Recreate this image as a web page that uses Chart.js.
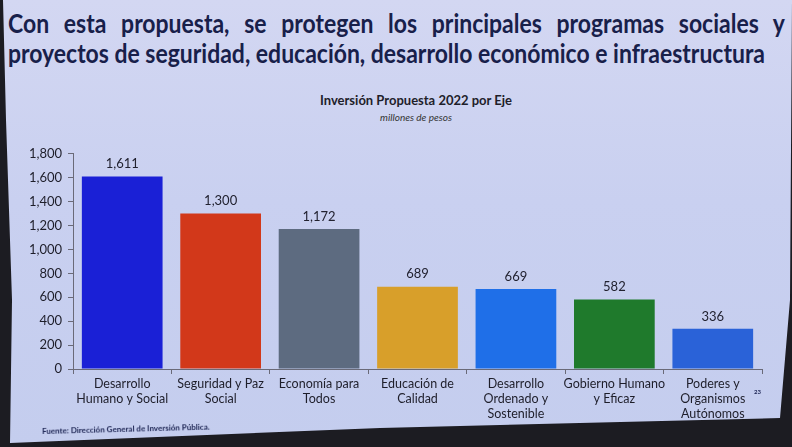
<!DOCTYPE html>
<html>
<head>
<meta charset="utf-8">
<script src="https://cdn.jsdelivr.net/npm/chart.js@4"></script>
<style>
  html, body { margin: 0; padding: 0; }
  body { width: 792px; height: 447px; background: #1c1c22; overflow: hidden; position: relative; font-family: Lato, "Open Sans", sans-serif; }
  .slide { position: absolute; left: 0; top: 0; width: 792px; height: 447px;
           background: linear-gradient(180deg, #d3d7f2 0%, #c9d0f0 45%, #c4cdee 100%);
           clip-path: polygon(3px 0, 792px 0, 790px 300px, 780px 418px, 380px 428px, 10px 443px, 12px 300px, 6px 120px); }
  .headline { position: absolute; left: 8px; color: #18204a; font-size: 27px; font-weight: 700; white-space: nowrap; transform-origin: 0 0; }
  .l1 { top: 6px; text-align: justify; text-align-last: justify; white-space: normal; }
  .l2 { top: 36px; }
  .ctitle { position: absolute; left: 0; width: 792px; top: 92px; text-align: center; font-size: 13px; font-weight: 700; color: #1e1e2a; padding-left: 40px; box-sizing: border-box; }
  .csub { position: absolute; left: 0; width: 792px; top: 111px; text-align: center; font-size: 10px; font-style: italic; color: #333; padding-left: 40px; box-sizing: border-box; }
  .fuente { position: absolute; left: 42px; top: 426px; font-size: 8px; color: #1b2352; font-weight: 700; transform: rotate(-1.5deg); transform-origin: 0 0; }
  .pnum { position: absolute; left: 754px; top: 388px; font-size: 6px; color: #1b2352; font-weight: 700; }
  #wrap { position: absolute; left: 0; top: 140px; width: 792px; height: 300px; }
</style>
</head>
<body>
<div class="slide"></div>
<div class="headline l1" id="h1">Con esta propuesta, se protegen los principales programas sociales y</div>
<div class="headline l2" id="h2">proyectos de seguridad, educación, desarrollo económico e infraestructura</div>
<div class="ctitle">Inversión Propuesta 2022 por Eje</div>
<div class="csub">millones de pesos</div>
<div id="wrap"><canvas id="myChart"></canvas></div>
<div class="pnum">23</div>
<div class="fuente">Fuente: Dirección General de Inversión Pública.</div>

<script>
const categories = [
    ['Desarrollo', 'Humano y Social'],
    ['Seguridad y Paz', 'Social'],
    ['Economía para', 'Todos'],
    ['Educación de', 'Calidad'],
    ['Desarrollo', 'Ordenado y', 'Sostenible'],
    ['Gobierno Humano', 'y Eficaz'],
    ['Poderes y', 'Organismos', 'Autónomos']
];
const investment = [1611, 1300, 1172, 689, 669, 582, 336];
const barColors = ['#1a20d6', '#d2381a', '#5d6b80', '#d89f2a', '#1f6fe8', '#1f7a2c', '#2a62d8'];
const yTicks = [0, 200, 400, 600, 800, 1000, 1200, 1400, 1600, 1800];

// squeeze the headline so the second line ends where the slide's does
function fitHeadline() {
    const h1 = document.getElementById('h1');
    const h2 = document.getElementById('h2');
    const s = 757 / h2.scrollWidth;
    h2.style.transform = `scaleX(${s})`;
    h1.style.width = (777 / s) + 'px';
    h1.style.transform = `scaleX(${s})`;
}
fitHeadline();

// draws the value above each bar
const valueLabels = {
    id: 'valueLabels',
    afterDatasetsDraw(chart) {
        const ctx = chart.ctx;
        const meta = chart.getDatasetMeta(0);
        ctx.save();
        ctx.font = '13px Lato, "Open Sans", sans-serif';
        ctx.fillStyle = '#222230';
        ctx.textAlign = 'center';
        ctx.textBaseline = 'bottom';
        meta.data.forEach((bar, i) => {
            ctx.fillText(investment[i].toLocaleString('en-US'), bar.x, bar.y - 6);
        });
        ctx.restore();
    }
};

const ctx = document.getElementById('myChart').getContext('2d');
new Chart(ctx, {
    type: 'bar',
    data: {
        labels: categories,
        datasets: [{
            data: investment,
            backgroundColor: barColors,
            borderWidth: 0,
            categoryPercentage: 1,
            barPercentage: 0.82
        }]
    },
    options: {
        responsive: true,
        maintainAspectRatio: false,
        animation: false,
        layout: { padding: { top: 11, right: 30, left: 0, bottom: 0 } },
        plugins: {
            legend: { display: false },
            tooltip: { enabled: false }
        },
        scales: {
            x: {
                grid: { display: true, drawOnChartArea: false, drawTicks: true, tickLength: 5, offset: true, color: '#6a6a78' },
                border: { color: '#6a6a78' },
                ticks: { color: '#1e1e2a', font: { family: 'Lato, "Open Sans", sans-serif', size: 12.5 }, maxRotation: 0, autoSkip: false, padding: 2 },
                afterFit(scale) { scale.height = 71; }
            },
            y: {
                min: 0,
                max: 1800,
                afterBuildTicks(scale) { scale.ticks = yTicks.map(v => ({ value: v })); },
                grid: { display: true, drawOnChartArea: false, drawTicks: true, tickLength: 5, color: '#6a6a78' },
                border: { color: '#6a6a78' },
                ticks: {
                    color: '#1e1e2a',
                    font: { family: 'Lato, "Open Sans", sans-serif', size: 13 },
                    padding: 6,
                    callback: v => v.toLocaleString('en-US')
                },
                afterFit(scale) { scale.width = 73; }
            }
        }
    },
    plugins: [valueLabels]
});
</script>
</body>
</html>
